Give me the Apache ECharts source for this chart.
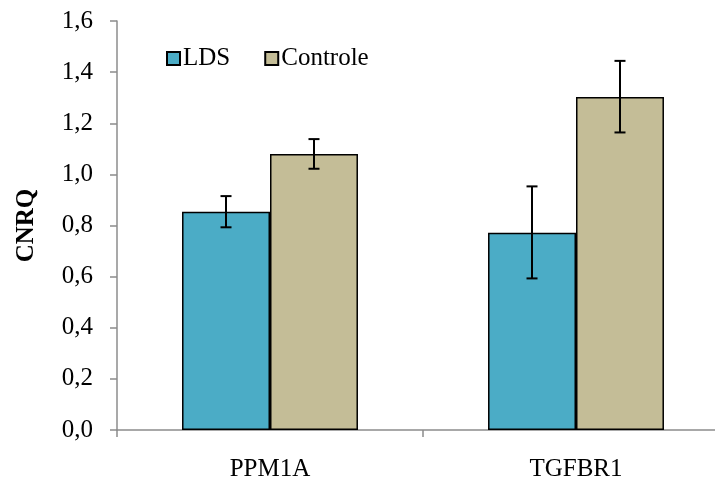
<!DOCTYPE html>
<html>
<head>
<meta charset="utf-8">
<script src="https://cdn.jsdelivr.net/npm/echarts@6/dist/echarts.min.js"></script>
<style>
  html, body { margin: 0; padding: 0; background: #fff; overflow: hidden; }
  /* the plot runs past the right edge in the original, so the canvas is wider than the window */
  #main { width: 740px; height: 481px; }
</style>
</head>
<body>
<div id="main"></div>
<script>
const categories = ['PPM1A', 'TGFBR1']
const ldsValues = [0.854, 0.772]
const ldsLow = [0.793, 0.593]
const ldsHigh = [0.915, 0.953]
const ctrlValues = [1.080, 1.303]
const ctrlLow = [1.022, 1.164]
const ctrlHigh = [1.138, 1.444]

const font = '"Liberation Serif", "Times New Roman", serif'
const chart = echarts.init(document.getElementById('main'))

const gapPct = 42.5
const halfBar = (1 - gapPct / 100) / 4

// error bars drawn as custom series, offset to each bar's centre
function errorSeries (name, low, high, offset) {
  return {
    name: name + '-err',
    type: 'custom',
    z: 10,
    data: categories.map((c, i) => [i, low[i], high[i]]),
    renderItem: function (params, api) {
      const lo = api.coord([api.value(0), api.value(1)])
      const hi = api.coord([api.value(0), api.value(2)])
      const band = api.size([1, 0])[0]
      const x = lo[0] + band * offset
      const cap = 5.5
      const style = { stroke: '#000', lineWidth: 2 }
      return {
        type: 'group',
        children: [
          { type: 'line', shape: { x1: x, y1: hi[1], x2: x, y2: lo[1] }, style: style },
          { type: 'line', shape: { x1: x - cap, y1: hi[1], x2: x + cap, y2: hi[1] }, style: style },
          { type: 'line', shape: { x1: x - cap, y1: lo[1], x2: x + cap, y2: lo[1] }, style: style }
        ]
      }
    }
  }
}

const option = {
  animation: false,
  textStyle: { fontFamily: font },
  grid: { left: 117, top: 21, width: 612, bottom: 51, containLabel: false, outerBoundsMode: 'none' },
  legend: {
    data: ['LDS', 'Controle'],
    left: 161,
    top: 41,
    itemWidth: 13,
    itemHeight: 13,
    itemGap: 34,
    icon: 'rect',
    textStyle: { fontFamily: font, fontSize: 25, color: '#000', padding: [0, 0, 0, -2] }
  },
  xAxis: {
    type: 'category',
    data: categories,
    axisLine: { lineStyle: { color: '#8c8c8c', width: 1.5 } },
    axisTick: { show: true, length: 7, lineStyle: { color: '#8c8c8c', width: 1.5 } },
    axisLabel: { fontFamily: font, fontSize: 25, color: '#000', margin: 27 }
  },
  yAxis: {
    type: 'value',
    min: 0,
    max: 1.6,
    interval: 0.2,
    name: 'CNRQ',
    nameLocation: 'middle',
    nameGap: 78,
    nameRotate: 90,
    nameTextStyle: { fontFamily: font, fontSize: 25, fontWeight: 'bold', color: '#000' },
    splitLine: { show: false },
    axisLine: { show: true, lineStyle: { color: '#8c8c8c', width: 1.5 } },
    axisTick: { show: true, length: 7, lineStyle: { color: '#8c8c8c', width: 1.5 } },
    axisLabel: {
      fontFamily: font, fontSize: 25, color: '#000', margin: 24,
      formatter: v => v.toFixed(1).replace('.', ',')
    }
  },
  series: [
    {
      name: 'LDS',
      type: 'bar',
      data: ldsValues,
      barGap: '0%',
      barCategoryGap: gapPct + '%',
      itemStyle: { color: '#4BACC6', borderColor: '#000', borderWidth: 1.5 }
    },
    {
      name: 'Controle',
      type: 'bar',
      data: ctrlValues,
      itemStyle: { color: '#C4BD97', borderColor: '#000', borderWidth: 1.5 }
    },
    errorSeries('LDS', ldsLow, ldsHigh, -halfBar),
    errorSeries('Controle', ctrlLow, ctrlHigh, halfBar)
  ]
}

chart.setOption(option)
</script>
</body>
</html>
